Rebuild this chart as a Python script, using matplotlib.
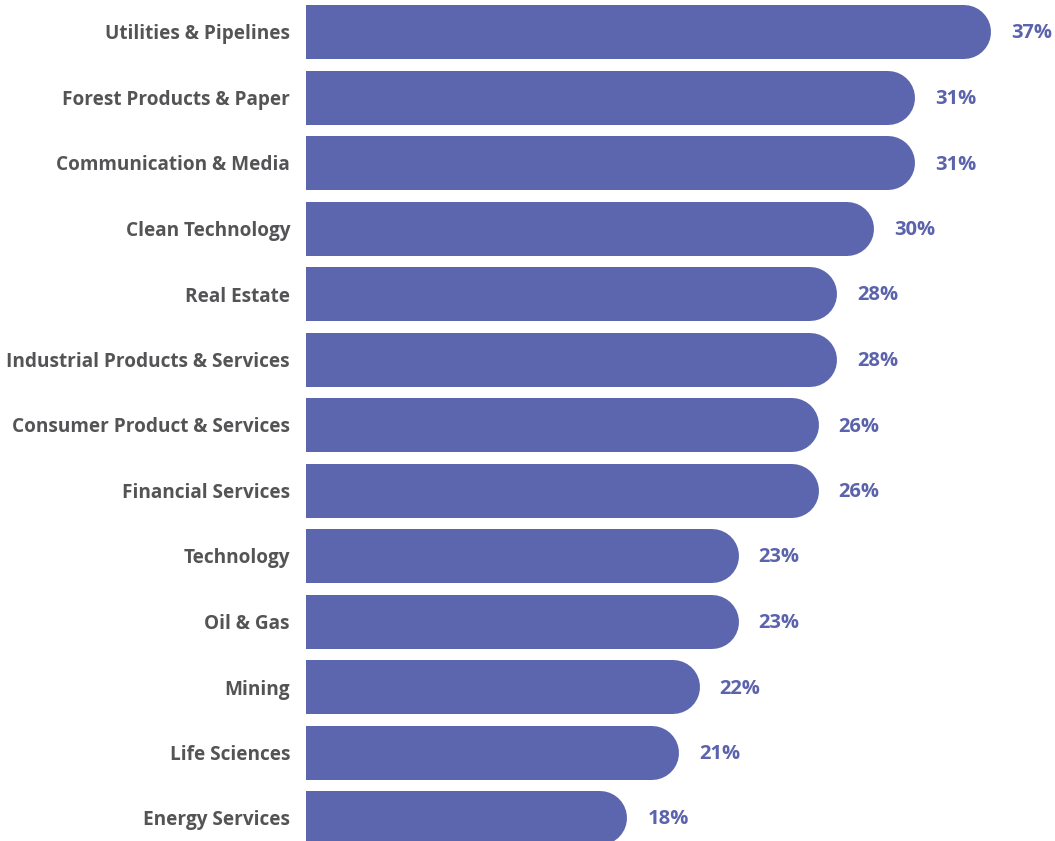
import matplotlib
matplotlib.use("Agg")
import matplotlib.pyplot as plt

categories = ["Utilities & Pipelines", "Forest Products & Paper", "Communication & Media",
              "Clean Technology", "Real Estate", "Industrial Products & Services",
              "Consumer Product & Services", "Financial Services", "Technology",
              "Oil & Gas", "Mining", "Life Sciences", "Energy Services"]
value_labels = ["37%", "31%", "31%", "30%", "28%", "28%", "26%", "26%", "23%", "23%", "22%", "21%", "18%"]
# bar lengths as drawn in the picture (percent scale)
bar_lengths = [36.9, 32.8, 32.8, 30.6, 28.6, 28.6, 27.6, 27.6, 23.3, 23.3, 21.2, 20.1, 17.3]

W, H, DPI = 1055, 841, 100
fig = plt.figure(figsize=(W / DPI, H / DPI), dpi=DPI)
left_px = 306
ax = fig.add_axes([left_px / W, 0, 1 - left_px / W, 1])

px_per_unit = 18.57
xmax = (W - left_px) / px_per_unit
pitch = 65.5
top_center = 32
ax.set_xlim(0, xmax)
ax.set_ylim((H - top_center) / pitch, -top_center / pitch)

bar_h_px = 54
lw_pt = bar_h_px * 72 / DPI
cap = (bar_h_px / 2) / px_per_unit
bar_color = "#5C66AE"
label_color = "#5B63AD"
text_color = "#545456"
font = "Open Sans"

for i, L in enumerate(bar_lengths):
    ax.plot([0, L - cap], [i, i], color=bar_color, lw=lw_pt, solid_capstyle="round", clip_on=True)
    ax.annotate(value_labels[i], xy=(L, i), xytext=(20 * 72 / DPI, -1.5 * 72 / DPI), textcoords="offset points",
                ha="left", va="center", color=label_color, fontsize=14.5, fontweight="bold", family=font,
                annotation_clip=False)

ax.set_yticks(range(len(categories)))
ax.set_yticklabels(categories, fontsize=13.7, fontweight="bold", color=text_color, family=font)
ax.tick_params(axis="y", length=0, pad=16 * 72 / DPI)
ax.set_xticks([])
for s in ax.spines.values():
    s.set_visible(False)

fig.savefig("out.png", dpi=DPI)
